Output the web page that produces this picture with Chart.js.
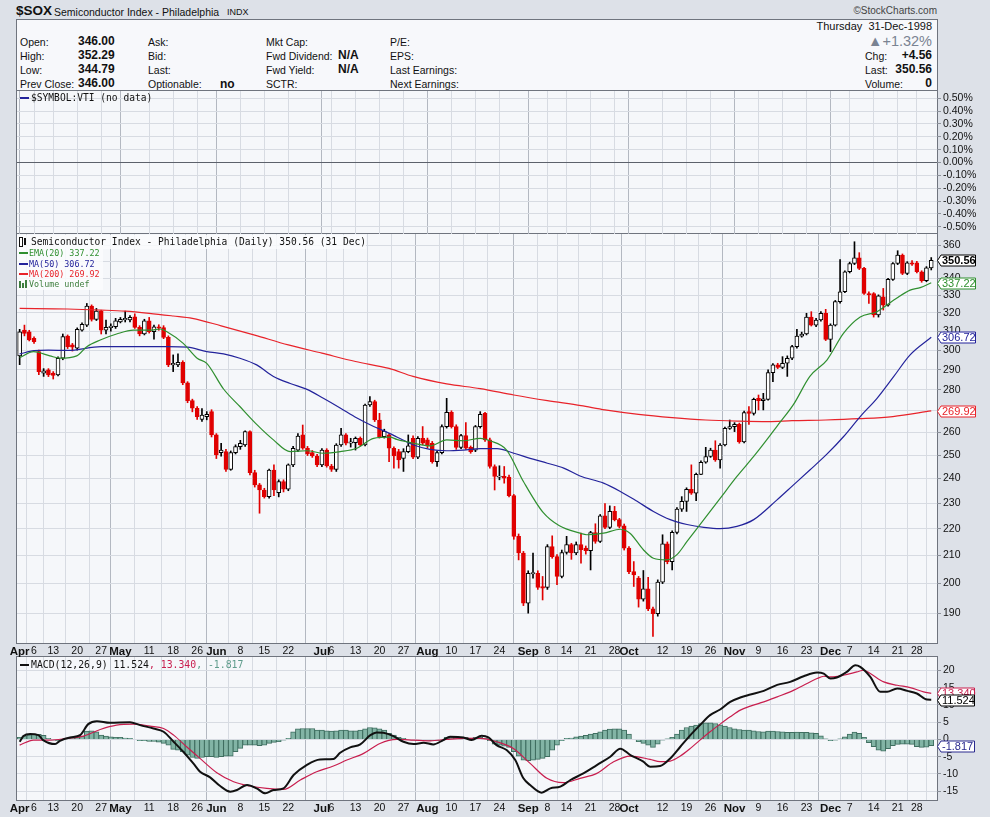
<!DOCTYPE html>
<html>
<head>
<meta charset="utf-8">
<script src="https://cdn.jsdelivr.net/npm/chart.js@4.4.0/dist/chart.umd.min.js"></script>
<style>
  html, body { margin: 0; padding: 0; }
  body { width: 990px; height: 817px; position: relative; overflow: hidden;
         background: #dde1e8; font-family: "Liberation Sans", Arial, sans-serif; color: #111; }
  .box { position: absolute; box-sizing: border-box; border: 1px solid #6f747e; }
  .plot { background: #f5f7fa; }
  canvas { position: absolute; left: 0; }
  .t { position: absolute; white-space: nowrap; line-height: 14px; }
  .b { font-weight: bold; font-size: 12px; }
  .lab { font-size: 10.5px; }
  .mono { font-family: "DejaVu Sans Mono", monospace; }
  .dash { position: absolute; height: 2px; width: 9px; }
</style>
</head>
<body>

<!-- header -->
<div class="t b" style="left:16px;top:4px;font-size:13.5px;">$SOX</div>
<div class="t" style="left:54px;top:5px;font-size:10.5px;">Semiconductor Index - Philadelphia</div>
<div class="t" style="left:227px;top:5px;font-size:9px;">INDX</div>
<div class="t" style="right:53px;top:4px;font-size:10px;color:#444;">&copy;StockCharts.com</div>

<div class="box" style="left:16px;top:19px;width:922px;height:73px;background:#f7f8fb;"></div>
<div class="t lab" style="left:20px;top:35px;">Open:</div>
<div class="t lab" style="left:20px;top:49px;">High:</div>
<div class="t lab" style="left:20px;top:63px;">Low:</div>
<div class="t lab" style="left:20px;top:77px;">Prev Close:</div>
<div class="t b" style="left:78px;top:34px;">346.00</div>
<div class="t b" style="left:78px;top:48px;">352.29</div>
<div class="t b" style="left:78px;top:62px;">344.79</div>
<div class="t b" style="left:78px;top:76px;">346.00</div>
<div class="t lab" style="left:148px;top:35px;">Ask:</div>
<div class="t lab" style="left:148px;top:49px;">Bid:</div>
<div class="t lab" style="left:148px;top:63px;">Last:</div>
<div class="t lab" style="left:148px;top:77px;">Optionable:</div>
<div class="t b" style="left:220px;top:77px;">no</div>
<div class="t lab" style="left:266px;top:35px;">Mkt Cap:</div>
<div class="t lab" style="left:266px;top:49px;">Fwd Dividend:</div>
<div class="t lab" style="left:266px;top:63px;">Fwd Yield:</div>
<div class="t lab" style="left:266px;top:77px;">SCTR:</div>
<div class="t b" style="left:338px;top:48px;">N/A</div>
<div class="t b" style="left:338px;top:62px;">N/A</div>
<div class="t lab" style="left:390px;top:35px;">P/E:</div>
<div class="t lab" style="left:390px;top:49px;">EPS:</div>
<div class="t lab" style="left:390px;top:63px;">Last Earnings:</div>
<div class="t lab" style="left:390px;top:77px;">Next Earnings:</div>
<div class="t" style="right:58px;top:19px;font-size:11px;">Thursday&nbsp; 31-Dec-1998</div>
<div class="t" style="right:58px;top:33px;font-size:14.5px;line-height:17px;color:#7a8392;">&#9650;+1.32%</div>
<div class="t lab" style="left:865px;top:49px;">Chg:</div>
<div class="t b" style="right:58px;top:48px;">+4.56</div>
<div class="t lab" style="left:865px;top:63px;">Last:</div>
<div class="t b" style="right:58px;top:62px;">350.56</div>
<div class="t lab" style="left:865px;top:77px;">Volume:</div>
<div class="t b" style="right:58px;top:76px;">0</div>

<!-- panel frames -->
<div class="box plot" style="left:16px;top:90px;width:922px;height:145px;"></div>
<div class="box plot" style="left:16px;top:233px;width:922px;height:411px;"></div>
<div class="box plot" style="left:16px;top:656px;width:922px;height:145px;"></div>

<canvas id="topChart" width="990" height="143" style="top:91px;"></canvas>
<canvas id="priceChart" width="990" height="423" style="top:234px;"></canvas>
<canvas id="macdChart" width="990" height="160" style="top:657px;"></canvas>

<!-- legends -->
<div class="dash" style="left:20px;top:97px;background:#23239b;"></div>
<div class="t mono" style="left:31px;top:91px;font-size:9.6px;">$SYMBOL:VTI (no data)</div>

<div style="position:absolute;left:17px;top:235px;width:86px;height:55px;background:rgba(250,251,253,0.85);"></div>
<div style="position:absolute;left:19px;top:237px;width:2px;height:8px;border:1px solid #111;background:#fff;"></div>
<div style="position:absolute;left:24px;top:238px;width:2px;height:7px;background:#111;"></div>
<div class="t mono" style="left:31px;top:235px;font-size:9.6px;background:rgba(250,251,253,0.85);">Semiconductor Index - Philadelphia (Daily) 350.56 (31 Dec)</div>
<div class="dash" style="left:19px;top:252px;background:#2f8f2f;"></div>
<div class="t mono" style="left:29px;top:246px;font-size:8.4px;color:#2f8f2f;">EMA(20) 337.22</div>
<div class="dash" style="left:19px;top:263px;background:#23239b;"></div>
<div class="t mono" style="left:29px;top:257px;font-size:8.4px;color:#23239b;">MA(50) 306.72</div>
<div class="dash" style="left:19px;top:273px;background:#e8232a;"></div>
<div class="t mono" style="left:29px;top:267px;font-size:8.4px;color:#e8232a;">MA(200) 269.92</div>
<div style="position:absolute;left:19px;top:281px;width:2px;height:7px;background:#3f7f3f;"></div>
<div style="position:absolute;left:22px;top:283px;width:2px;height:5px;background:#3f7f3f;"></div>
<div style="position:absolute;left:25px;top:280px;width:2px;height:8px;background:#3f7f3f;"></div>
<div class="t mono" style="left:29px;top:277px;font-size:8.4px;color:#3f7f3f;">Volume undef</div>

<div class="dash" style="left:20px;top:664px;background:#111;"></div>
<div class="t mono" style="left:31px;top:658px;font-size:9.8px;">MACD(12,26,9) 11.524<span style="color:#c81e4e">, 13.340</span><span style="color:#5f9c8c">, -1.817</span></div>

<script>
// ---- x axis : trading day index (0 = 1 Apr 1998, 190 = 31 Dec 1998)
const X_MIN = -0.55, X_MAX = 191.2;
const tickIdx  = [0, 3, 7, 12, 17, 21, 27, 32, 37, 41, 46, 51, 56, 63, 65, 70, 75, 80, 85, 90, 95, 100,
                  106, 110, 114, 119, 124, 127, 134, 139, 144, 149, 154, 159, 164, 169, 173, 178, 183, 187];
const tickText = ['Apr', '6', '13', '20', '27', 'May', '11', '18', '26', 'Jun', '8', '15', '22', 'Jul', '6', '13', '20', '27',
                  'Aug', '10', '17', '24', 'Sep', '8', '14', '21', '28', 'Oct', '12', '19', '26', 'Nov', '9', '16', '23',
                  'Dec', '7', '14', '21', '28'];

// ---- daily OHLC, $SOX
const opens = [297.0, 310.6, 309.7, 306.2, 299.2, 288.2, 289.9, 288.2, 287.4, 295.8, 307.4, 302.7, 301.0, 310.6, 313.3, 323.8, 316.4, 321.0, 310.6, 311.9,
  312.4, 315.1, 316.1, 316.1, 317.9, 312.1, 308.5, 315.7, 309.7, 312.4, 311.9, 306.7, 292.4, 292.4, 293.7, 283.4, 274.8, 271.2, 266.0, 267.3,
  269.6, 258.9, 251.1, 251.5, 243.9, 251.1, 253.7, 254.4, 260.4, 242.5, 237.4, 235.3, 232.6, 243.6, 234.2, 238.8, 235.6, 245.8, 252.2, 258.9,
  253.0, 251.1, 249.6, 245.8, 252.2, 245.3, 243.9, 254.4, 258.9, 255.2, 255.5, 257.4, 254.4, 272.7, 274.3, 265.7, 258.1, 259.0, 253.0, 251.5,
  248.6, 251.5, 257.4, 249.1, 257.4, 256.7, 255.2, 247.2, 251.1, 262.7, 269.3, 262.7, 253.4, 258.6, 253.4, 252.2, 262.7, 268.8, 256.7, 245.1,
  240.6, 240.9, 240.6, 233.0, 217.1, 210.9, 193.3, 203.4, 203.6, 199.0, 198.7, 213.3, 209.6, 202.5, 211.1, 214.0, 210.9, 214.0, 212.7, 211.8,
  218.5, 215.2, 225.0, 220.5, 226.7, 223.5, 221.1, 212.7, 204.2, 201.9, 194.7, 198.2, 191.4, 189.8, 200.5, 214.3, 207.8, 218.6, 227.6, 230.7,
  235.6, 234.0, 241.8, 246.9, 249.4, 252.2, 247.9, 254.4, 261.9, 262.7, 263.7, 255.8, 269.6, 268.8, 275.9, 274.8, 275.4, 288.5, 292.4, 291.1,
  293.2, 295.8, 301.8, 307.4, 308.5, 317.7, 313.3, 316.1, 319.8, 305.6, 313.3, 326.3, 332.0, 343.7, 348.7, 352.2, 345.7, 331.0, 331.0, 318.9,
  329.1, 324.4, 339.2, 348.7, 353.8, 342.7, 349.1, 349.1, 343.7, 338.4, 346.00];
const highs = [311.0, 313.3, 310.5, 307.0, 300.0, 290.5, 290.5, 289.0, 296.5, 308.5, 308.0, 303.5, 311.8, 314.5, 325.3, 324.5, 322.5, 321.5, 316.0, 314.0,
  317.0, 317.5, 321.0, 318.5, 319.5, 313.0, 316.5, 317.5, 313.3, 313.5, 313.0, 307.5, 297.5, 298.0, 294.5, 284.0, 275.5, 272.0, 271.0, 269.6,
  270.5, 259.5, 255.2, 252.5, 251.8, 254.5, 256.5, 260.8, 260.8, 243.5, 238.0, 236.0, 244.0, 245.8, 239.5, 239.5, 246.2, 253.8, 259.5, 263.4,
  253.8, 252.0, 250.3, 252.8, 252.8, 246.0, 255.0, 261.9, 259.5, 257.4, 258.0, 258.0, 273.2, 276.7, 275.0, 268.8, 261.5, 259.5, 253.6, 252.5,
  252.8, 258.9, 258.5, 258.2, 262.7, 257.5, 256.0, 251.8, 263.5, 275.9, 270.0, 263.5, 259.2, 264.5, 254.0, 263.2, 269.6, 269.3, 257.5, 245.8,
  245.4, 245.1, 241.5, 233.5, 218.0, 211.5, 204.5, 210.9, 204.5, 202.5, 214.0, 217.3, 210.3, 212.0, 217.1, 214.5, 215.0, 218.3, 213.5, 219.0,
  221.9, 225.5, 229.8, 228.9, 228.7, 224.0, 221.8, 213.3, 207.8, 202.5, 204.6, 202.2, 192.0, 201.3, 217.7, 215.0, 219.2, 228.2, 232.6, 236.2,
  245.8, 242.3, 247.5, 253.4, 253.0, 256.3, 255.0, 262.5, 265.7, 264.5, 264.3, 269.8, 272.0, 276.0, 277.5, 278.3, 289.9, 293.0, 293.2, 296.6,
  297.0, 302.5, 311.0, 309.5, 319.8, 320.7, 317.0, 320.7, 322.0, 314.0, 327.0, 351.1, 344.3, 349.5, 362.1, 355.3, 346.3, 332.0, 331.5, 330.2,
  333.9, 339.8, 349.3, 356.5, 354.5, 349.8, 350.5, 350.0, 344.3, 346.8, 352.29];
const lows = [292.5, 307.5, 304.8, 303.5, 287.5, 286.6, 286.5, 285.3, 286.8, 295.0, 300.8, 299.5, 300.0, 310.0, 312.5, 315.5, 315.8, 308.5, 308.5, 310.0,
  311.5, 314.5, 315.0, 315.0, 311.5, 307.5, 308.0, 309.0, 305.7, 310.5, 306.0, 291.5, 289.0, 291.5, 282.5, 273.8, 269.5, 266.0, 265.0, 265.8,
  258.0, 248.5, 249.5, 243.0, 243.5, 250.5, 252.5, 253.8, 241.5, 236.5, 226.0, 232.0, 232.0, 233.0, 232.5, 234.5, 235.0, 245.0, 251.5, 252.5,
  249.8, 249.0, 245.0, 245.0, 244.8, 243.0, 243.0, 253.8, 254.5, 253.5, 252.2, 254.0, 254.0, 272.0, 265.0, 257.5, 257.5, 247.2, 244.4, 244.4,
  243.0, 251.0, 248.5, 248.5, 254.5, 253.0, 246.5, 245.1, 250.5, 262.0, 262.0, 252.5, 252.8, 252.5, 250.8, 251.5, 262.0, 256.0, 244.4, 235.3,
  239.5, 238.1, 232.5, 216.0, 208.4, 192.5, 190.0, 201.9, 198.0, 194.4, 198.0, 209.0, 199.6, 202.0, 210.5, 208.6, 210.3, 207.2, 210.5, 204.8,
  214.5, 214.8, 220.0, 220.0, 223.0, 220.3, 212.0, 203.5, 199.0, 192.0, 194.0, 190.8, 182.5, 189.0, 200.0, 207.0, 204.8, 218.0, 226.7, 226.7,
  233.5, 231.0, 241.6, 246.5, 249.0, 247.3, 244.4, 254.0, 261.4, 260.4, 255.2, 255.3, 263.7, 268.0, 270.4, 270.4, 275.0, 284.0, 290.5, 290.5,
  286.6, 295.0, 301.0, 306.8, 308.0, 312.8, 312.5, 315.5, 305.0, 299.2, 312.8, 325.5, 331.5, 343.0, 348.0, 345.0, 330.5, 325.3, 317.7, 317.7,
  321.6, 323.8, 338.6, 348.0, 342.0, 342.0, 347.5, 343.0, 337.5, 337.8, 344.79];
const closes = [309.7, 308.8, 305.3, 304.4, 289.0, 289.4, 287.4, 287.1, 295.8, 307.1, 301.8, 301.5, 311.0, 313.7, 323.8, 316.4, 321.0, 310.6, 312.1, 312.8,
  315.7, 316.4, 317.0, 317.5, 312.1, 308.5, 315.7, 309.7, 312.4, 311.6, 306.7, 292.4, 293.2, 293.7, 283.4, 274.8, 271.2, 267.3, 268.0, 268.3,
  258.9, 250.1, 252.2, 243.9, 251.1, 253.7, 255.2, 260.4, 242.5, 237.4, 235.3, 232.6, 243.6, 235.3, 238.8, 235.6, 245.8, 253.0, 258.4, 253.0,
  250.5, 249.6, 245.8, 252.2, 245.3, 243.9, 254.4, 258.9, 255.2, 255.8, 257.4, 254.4, 272.7, 274.3, 265.7, 258.1, 260.7, 253.0, 249.6, 247.9,
  251.5, 254.0, 249.1, 257.4, 255.2, 254.0, 247.2, 251.1, 262.7, 269.3, 262.7, 253.4, 258.6, 253.0, 251.5, 262.7, 268.3, 256.7, 245.1, 240.9,
  241.1, 240.2, 233.0, 217.1, 210.9, 193.3, 203.6, 203.9, 198.7, 198.4, 213.3, 209.6, 202.5, 211.1, 214.0, 210.9, 214.0, 212.1, 211.8, 218.5,
  215.2, 225.0, 220.5, 226.7, 223.5, 220.9, 212.7, 204.2, 203.0, 194.7, 198.2, 191.4, 189.8, 200.5, 214.3, 207.8, 218.6, 227.6, 230.7, 235.6,
  234.0, 241.8, 246.9, 249.4, 252.2, 247.9, 254.4, 261.9, 262.7, 263.7, 255.8, 269.1, 268.8, 275.4, 274.8, 275.6, 288.5, 292.4, 291.1, 293.2,
  295.8, 301.8, 307.4, 308.5, 317.7, 313.3, 316.1, 319.8, 305.6, 313.3, 326.3, 332.0, 343.7, 348.7, 352.2, 345.7, 331.0, 330.1, 318.9, 329.6,
  324.4, 339.2, 348.7, 353.8, 342.7, 349.1, 348.3, 343.7, 338.4, 346.0, 350.56];

// ---- moving averages, read at these day positions
const ema20Idx = [0, 2.9, 6.3, 8.4, 11.9, 14, 16.8, 20.2, 23.7, 27.2, 29.3, 30.7, 34.1, 37, 39, 42.5, 45.9, 49.4, 52.9, 56.4,
  59.9, 63.3, 66.8, 70.3, 73.8, 77.2, 78.6, 82.1, 85.5, 89, 92.5, 96, 98, 101.5, 105, 109.1, 112.5, 116.8, 118.2, 121.7,
  125.2, 127.2, 130, 132.1, 134.9, 137, 139.1, 142.6, 146, 149.5, 153, 156.5, 157.8, 161.3, 164.7, 168.3, 171.7, 175.2, 178.7, 182.2,
  185.6, 187.7, 190];
const ema20 = [296.1, 299.2, 297.0, 295.8, 297.0, 301.8, 305.3, 308.5, 310.6, 310.6, 311.2, 309.7, 303.5, 295.8, 293.2, 280.4, 272.0, 263.7, 256.7, 251.5,
  251.9, 250.8, 251.5, 253.0, 257.4, 257.9, 256.9, 255.2, 254.0, 256.7, 256.3, 257.4, 256.3, 252.2, 238.8, 226.3, 221.1, 218.3, 217.7, 218.3,
  219.8, 218.3, 212.1, 209.0, 208.4, 210.3, 215.2, 223.5, 231.9, 240.9, 249.4, 258.9, 262.7, 273.0, 286.6, 295.0, 308.8, 317.7, 320.7, 327.2,
  332.9, 334.4, 337.22];
const ma50Idx = [0, 3, 6, 10, 17, 24, 31, 35, 39, 42.5, 45.9, 49.4, 52.9, 56.4, 59.9, 63.3, 66.8, 70.3, 73.8, 77.2,
  78.6, 82.1, 85.5, 89, 92.5, 96, 99.5, 103, 106.4, 110, 113.4, 116.8, 121.7, 125.2, 128.7, 132.1, 135.6, 139.1, 142.6, 146,
  149.5, 153, 157.8, 161.3, 164.7, 168.3, 171.7, 175.2, 178.7, 182.2, 185.6, 190];
const ma50 = [298.0, 299.7, 300.0, 299.8, 301.8, 301.8, 301.8, 301.5, 299.2, 298.0, 295.8, 292.4, 286.6, 283.1, 280.2, 275.9, 271.3, 266.6, 262.7, 259.5,
  258.0, 254.4, 252.5, 251.9, 252.2, 252.8, 252.8, 250.8, 248.6, 246.5, 244.4, 241.1, 238.1, 234.7, 230.7, 226.7, 223.5, 221.6, 220.5, 220.0,
  220.9, 223.5, 231.2, 237.4, 243.6, 250.5, 258.1, 267.3, 275.9, 286.6, 297.5, 306.72];
const ma200Idx = [0, 10, 17, 22, 27, 32, 36, 42, 49, 56, 63, 70, 77, 82, 89, 96, 103, 110, 117, 122,
  129, 136, 143, 150, 156, 161, 168, 175, 182, 190];
const ma200 = [322.5, 322.2, 321.6, 321.0, 319.8, 318.3, 317.0, 312.9, 307.9, 302.7, 298.4, 294.1, 290.6, 286.6, 282.9, 280.6, 277.5, 274.8, 272.4, 270.4,
  268.3, 266.8, 265.7, 265.2, 265.0, 265.4, 265.7, 266.3, 267.3, 269.92];

// ---- MACD(12,26,9)
const macdIdx = [0, 0.8, 2.2, 3.9, 4.9, 7.4, 8.4, 10.5, 12.6, 14.3, 16.1, 18.8, 23, 25.1, 27.9, 30, 32.1, 34.1, 36.2, 37.6,
  39.7, 41.8, 43.9, 45.3, 47.4, 49.4, 51.2, 52.9, 55, 57.1, 59.8, 62.6, 65.4, 66.8, 68.9, 71, 73.1, 74.4, 75.8, 77.9,
  80, 82.1, 84.2, 86.2, 88.3, 89.7, 92.5, 94.2, 96.3, 97.7, 99.4, 101.5, 103.3, 105, 106.4, 108.8, 110.6, 112.7, 114.8, 117.5,
  120.3, 123.1, 125.2, 127.3, 130, 131.4, 133.5, 135.6, 137.7, 139.8, 141.8, 143.9, 146, 148.1, 150.2, 152.3, 155.1, 157.9, 160.6, 163.4,
  166.2, 167.6, 169, 170.3, 172.4, 174.2, 175.2, 177.3, 179.4, 180.8, 182.9, 185, 187, 189.1, 190];
const macd = [-0.68, 0.96, 1.54, 1.25, -0.19, -1.35, -0.39, 0.58, 1.25, 4.44, 5.30, 4.82, 5.01, 4.15, 3.18, 2.22, -0.68, -3.57, -6.94, -9.35,
  -10.99, -13.50, -15.14, -14.66, -13.21, -14.18, -15.62, -14.66, -14.18, -10.32, -7.43, -5.79, -5.69, -3.86, -2.31, -1.45, 1.25, 2.03, 1.93, 0.96,
  -0.68, -1.35, -0.96, -1.45, -0.19, 0.77, 0.58, -0.19, 1.06, 0.58, -1.64, -3.09, -5.98, -11.28, -13.21, -15.43, -14.18, -13.69, -11.76, -9.84,
  -7.43, -5.01, -2.70, -4.53, -6.46, -7.91, -7.71, -5.50, -2.12, 1.25, 4.15, 7.04, 8.68, 10.90, 12.15, 13.02, 14.08, 15.81, 16.68, 18.32,
  19.38, 19.09, 17.65, 17.94, 19.58, 21.50, 21.02, 18.13, 13.79, 13.79, 14.75, 14.08, 13.31, 11.57, 11.524];
const signalIdx = [0, 2.9, 6.3, 9.8, 13.3, 16.8, 20.2, 23.7, 27.2, 30, 32.1, 34.8, 37.6, 41.1, 44.6, 48, 51.5, 55, 58.5, 61.9,
  65.4, 68.2, 71.7, 75.1, 78.6, 82.1, 85.6, 89, 92.5, 96, 99.4, 102.9, 106.4, 109.9, 113.3, 116.8, 120.3, 123.8, 127.3, 131.4,
  133.5, 135.6, 137.7, 139.8, 141.8, 143.9, 146, 148.1, 150.2, 152.3, 155.1, 157.9, 160.6, 163.4, 166.2, 167.6, 169, 171.7, 174.5, 175.9,
  177.3, 180.1, 182.9, 185.6, 188.4, 190];
const signal = [-1.64, -0.19, -0.19, 0.29, 0.96, 2.89, 4.15, 4.44, 3.86, 3.18, 1.25, -2.12, -5.50, -9.64, -12.25, -13.50, -14.18, -14.46, -11.76, -9.35,
  -7.71, -5.98, -4.05, -1.16, 0, -0.19, -0.39, 0, 0.29, 0.29, -0.68, -2.60, -6.94, -11.28, -12.54, -11.28, -9.84, -6.46, -4.82, -5.79,
  -6.46, -6.27, -4.82, -2.60, -0.19, 2.22, 4.44, 6.56, 8.49, 9.64, 10.90, 12.34, 13.79, 15.72, 17.65, 18.32, 18.13, 18.61, 19.58, 20.06,
  19.09, 16.68, 15.72, 15.04, 13.79, 13.34];
const hist = [0.58, 1.06, 1.35, 1.45, 1.45, 1.16, 0.29, -0.19, -0.39, 0, 0.29, 0.58, 0.77, 0.96, 2.41, 2.51, 2.22, 1.25, 0.96, 0.77,
  0.58, 0.58, 0.39, 0.29, 0, -0.39, -0.39, -0.58, -0.58, -0.77, -1.16, -1.64, -2.89, -3.09, -3.57, -4.53, -5.21, -5.50, -5.21, -5.01,
  -5.01, -5.21, -5.01, -4.82, -4.82, -3.57, -2.60, -1.64, -1.64, -1.64, -1.83, -1.64, -1.16, -0.87, -0.68, -0.19, 0.29, 2.22, 3.09, 3.18,
  3.18, 3.18, 2.70, 2.70, 2.51, 2.41, 2.51, 2.70, 2.70, 2.51, 2.51, 2.70, 3.09, 3.47, 3.38, 3.09, 2.70, 1.74, 1.25, 0.58,
  0.29, 0, -0.19, -0.19, -0.19, -0.29, -0.39, -0.39, -0.19, 0.58, 0.77, 0.77, 0.68, 0.58, 0.39, 0.58, 0.58, 0.29, -0.39, -1.35,
  -1.64, -1.93, -2.31, -3.57, -4.82, -5.98, -6.17, -5.98, -5.79, -5.50, -5.01, -3.09, -1.64, -0.39, 0.29, 0.39, 0.77, 0.96, 1.16, 1.54,
  1.74, 2.22, 2.70, 2.99, 3.09, 3.09, 2.70, 1.54, 0, -0.68, -1.16, -1.64, -2.31, -1.35, -0.19, 0.19, 0.58, 1.54, 2.70, 3.47,
  3.86, 4.15, 4.63, 4.82, 4.82, 4.63, 4.24, 3.86, 3.47, 3.09, 2.89, 2.70, 2.70, 2.51, 2.31, 2.22, 2.41, 2.41, 2.31, 2.22,
  2.03, 2.03, 2.12, 2.03, 2.03, 1.93, 1.74, 1.06, 0.19, -0.39, -0.19, 0.19, 0.77, 1.54, 2.12, 1.74, 0.58, -0.96, -2.12, -3.09,
  -3.38, -2.70, -1.83, -1.45, -1.35, -1.35, -1.45, -2.12, -2.31, -2.22, -1.817];

// ---- axis ticks
const pctTicks = [0.5, 0.4, 0.3, 0.2, 0.1, 0, -0.1, -0.2, -0.3, -0.4, -0.5];
const priceTicks = [190, 200, 210, 220, 230, 240, 250, 260, 270, 280, 290, 300, 310, 320, 330, 340, 350, 360];
const macdTicks = [-15, -10, -5, 0, 5, 10, 15, 20];

const RED = '#e00000';
const GRID = '#d7dbe2';
const FONT = 'Liberation Sans';

const isMonth = i => /^[A-Z]/.test(tickText[i] || '');
const pts = (xs, ys) => xs.map((x, k) => ({ x: x, y: ys[k] }));

function xAxis(showLabels, h) {
  return {
    type: 'linear', min: X_MIN, max: X_MAX, offset: false,
    afterBuildTicks: s => { s.ticks = tickIdx.map(v => ({ value: v })); },
    // fixed height, and no side padding so the plot keeps its full width
    afterFit: s => { s.height = h; s.paddingLeft = 0; s.paddingRight = 0; },
    border: { display: false },
    grid: { color: c => isMonth(c.index) ? '#b3b8c1' : GRID, drawTicks: false },
    ticks: {
      display: showLabels, autoSkip: false, maxRotation: 0, minRotation: 0, padding: 2,
      color: '#111',
      callback: (v, i) => tickText[i],
      font: c => isMonth(c.index) ? { family: FONT, size: 11.5, weight: 'bold' } : { family: FONT, size: 10.5 }
    }
  };
}

function yAxis(extra) {
  return Object.assign({
    position: 'right',
    afterFit: s => { s.width = 53; s.paddingTop = 0; s.paddingBottom = 0; },
    border: { display: false },
    grid: { color: GRID, tickLength: 4, tickColor: '#8d929b' },
    ticks: { color: '#111', padding: 2, autoSkip: false, font: { family: FONT, size: 10.5 } }
  }, extra);
}

// value tags on the right edge
const tagPlugin = {
  id: 'tags',
  afterDraw(chart, args, opts) {
    const { ctx, chartArea } = chart;
    const y = chart.scales.y;
    (opts.items || []).forEach(t => {
      const yy = Math.round(y.getPixelForValue(t.value)) + 0.5;
      const x0 = chartArea.right + 0.5, x1 = x0 + 3.5, x2 = x0 + t.w;
      ctx.save();
      ctx.beginPath();
      ctx.moveTo(x0, yy);
      ctx.lineTo(x1, yy - 5.5);
      ctx.lineTo(x2, yy - 5.5);
      ctx.lineTo(x2, yy + 5.5);
      ctx.lineTo(x1, yy + 5.5);
      ctx.closePath();
      ctx.fillStyle = '#fff';
      ctx.fill();
      ctx.strokeStyle = t.color;
      ctx.lineWidth = 1;
      ctx.stroke();
      ctx.fillStyle = t.color;
      ctx.font = (t.bold ? 'bold ' : '') + '11px ' + FONT;
      ctx.textBaseline = 'middle';
      ctx.textAlign = 'left';
      ctx.fillText(t.text, x1 + 1, yy + 0.5);
      ctx.restore();
    });
  }
};
Chart.register(tagPlugin);

const common = {
  responsive: false, animation: false, events: [],
  layout: { padding: { left: 17, right: 0, top: 0, bottom: 0 } },
  plugins: { legend: { display: false }, tooltip: { enabled: false } }
};

// ---- upper (empty) panel
new Chart(document.getElementById('topChart'), {
  type: 'line',
  data: { datasets: [{ data: [] }] },
  options: Object.assign({}, common, {
    scales: {
      x: xAxis(false, 0),
      y: yAxis({
        min: -0.557, max: 0.557,
        afterBuildTicks: s => { s.ticks = pctTicks.map(v => ({ value: v })); },
        grid: { color: c => c.tick && c.tick.value === 0 ? '#5c616b' : GRID, tickLength: 4, tickColor: '#8d929b' },
        ticks: { color: '#111', padding: 2, autoSkip: false, font: { family: FONT, size: 10.5 },
                 callback: v => v.toFixed(2) + '%' }
      })
    }
  })
});

// ---- price panel
const bodyFill = closes.map((c, i) => c < opens[i] ? RED : '#ffffff');
const bodyLine = closes.map((c, i) => c < opens[i] ? RED : '#000000');

new Chart(document.getElementById('priceChart'), {
  type: 'bar',
  data: {
    datasets: [
      { type: 'line', data: pts(ema20Idx, ema20), borderColor: '#2f8f2f', borderWidth: 1.2, pointRadius: 0, cubicInterpolationMode: 'monotone', order: 0 },
      { type: 'line', data: pts(ma50Idx, ma50), borderColor: '#23239b', borderWidth: 1.2, pointRadius: 0, cubicInterpolationMode: 'monotone', order: 0 },
      { type: 'line', data: pts(ma200Idx, ma200), borderColor: '#e8232a', borderWidth: 1.2, pointRadius: 0, cubicInterpolationMode: 'monotone', order: 0 },
      { data: closes.map((c, i) => ({ x: i, y: [opens[i], c] })), backgroundColor: bodyFill, borderColor: bodyLine,
        borderWidth: 1, borderSkipped: false, barThickness: 4, grouped: false, order: 2 },
      { data: closes.map((c, i) => ({ x: i, y: [lows[i], highs[i]] })), backgroundColor: bodyLine,
        barThickness: 1, grouped: false, order: 3 }
    ]
  },
  options: Object.assign({}, common, {
    scales: {
      x: xAxis(true, 14),
      y: yAxis({
        type: 'logarithmic', min: 180.4, max: 367,
        afterBuildTicks: s => { s.ticks = priceTicks.map(v => ({ value: v })); },
        ticks: { color: '#111', padding: 2, autoSkip: false, font: { family: FONT, size: 10.5 }, callback: v => String(v) }
      })
    },
    plugins: Object.assign({}, common.plugins, {
      tags: { items: [
        { value: 269.92, text: '269.92', color: '#e8232a', w: 38 },
        { value: 306.72, text: '306.72', color: '#23239b', w: 38 },
        { value: 337.22, text: '337.22', color: '#2f8f2f', w: 38 },
        { value: 350.56, text: '350.56', color: '#000000', w: 38, bold: true }
      ] }
    })
  })
});

// ---- MACD panel
new Chart(document.getElementById('macdChart'), {
  type: 'bar',
  data: {
    datasets: [
      { type: 'line', data: pts(macdIdx, macd), borderColor: '#111', borderWidth: 2, pointRadius: 0, cubicInterpolationMode: 'monotone', order: 0 },
      { type: 'line', data: pts(signalIdx, signal), borderColor: '#c81e4e', borderWidth: 1.2, pointRadius: 0, cubicInterpolationMode: 'monotone', order: 1 },
      { data: hist.map((v, i) => ({ x: i, y: v })), backgroundColor: '#82b4a5', borderColor: '#3f6e60',
        borderWidth: 1, barThickness: 5, order: 3 }
    ]
  },
  options: Object.assign({}, common, {
    scales: {
      x: xAxis(true, 17),
      y: yAxis({
        min: -17.56, max: 23.9,
        afterBuildTicks: s => { s.ticks = macdTicks.map(v => ({ value: v })); },
        ticks: { color: '#111', padding: 2, autoSkip: false, font: { family: FONT, size: 10.5 }, callback: v => String(v) }
      })
    },
    plugins: Object.assign({}, common.plugins, {
      tags: { items: [
        { value: 13.34, text: '13.340', color: '#c81e4e', w: 37 },
        { value: 11.524, text: '11.524', color: '#000000', w: 37 },
        { value: -1.817, text: '-1.817', color: '#2b2b8f', w: 37 }
      ] }
    })
  })
});
</script>
</body>
</html>
